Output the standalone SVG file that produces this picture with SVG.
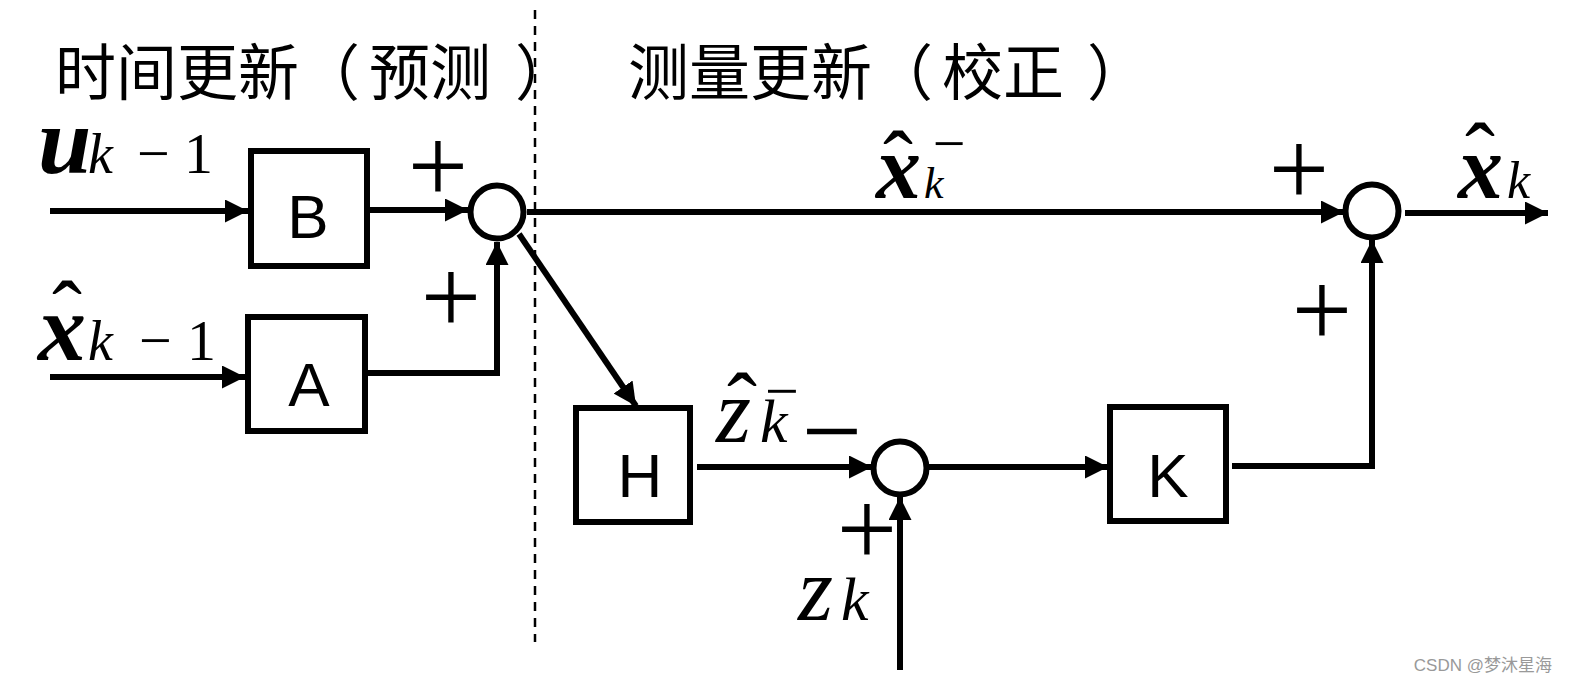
<svg xmlns="http://www.w3.org/2000/svg" width="1573" height="684" viewBox="0 0 1573 684">
<style>
.box{fill:#fff;stroke:#000;stroke-width:6}
.sum{fill:#fff;stroke:#000;stroke-width:6}
.wire{fill:none;stroke:#000;stroke-width:6}
.lbl{font-family:"Liberation Sans",Arial,sans-serif;font-size:62px;fill:#000;text-anchor:middle}
.cn{font-family:"Noto Sans CJK SC","Noto Sans CJK JP",sans-serif;font-size:61px;fill:#000}
.m{font-family:"Liberation Serif","Times New Roman",serif;fill:#000}
.bi{font-style:italic;font-weight:bold}
.it{font-style:italic}
.sg{font-family:"Liberation Serif","Times New Roman",serif;font-size:107px;fill:#000;text-anchor:middle}
.hat{font-family:"Liberation Serif","Times New Roman",serif;font-size:90px;fill:#000;text-anchor:middle}
</style>
<defs>
<marker id="ah" markerWidth="23" markerHeight="23" refX="23" refY="11.5" orient="auto" markerUnits="userSpaceOnUse">
<path d="M0,0 L23,11.5 L0,23 z" fill="#000"/>
</marker>
</defs>
<rect width="1573" height="684" fill="#fff"/>

<g id="titles">
<text class="cn" y="95"><tspan x="55">时间更新（</tspan><tspan x="369">预测</tspan><tspan x="515">）</tspan></text>
<text class="cn" y="95"><tspan x="628">测量更新（</tspan><tspan x="942">校正</tspan><tspan x="1087">）</tspan></text>
</g>

<line x1="535" y1="10" x2="535" y2="642" stroke="#000" stroke-width="2.5" stroke-dasharray="9 7"/>

<g id="connectors">
<path class="wire" d="M50,211 H248" marker-end="url(#ah)"/>
<path class="wire" d="M50,377 H245" marker-end="url(#ah)"/>
<path class="wire" d="M370,210 H468" marker-end="url(#ah)"/>
<path class="wire" d="M368,373 H497 V242" marker-end="url(#ah)"/>
<path class="wire" d="M527,212 H1344" marker-end="url(#ah)"/>
<path class="wire" d="M519,234 L636,406" marker-end="url(#ah)"/>
<path class="wire" d="M697,467 H872" marker-end="url(#ah)"/>
<path class="wire" d="M928,467 H1108" marker-end="url(#ah)"/>
<path class="wire" d="M1232,466 H1372 V240" marker-end="url(#ah)"/>
<path class="wire" d="M900,670 V497" marker-end="url(#ah)"/>
<path class="wire" d="M1405,213 H1548" marker-end="url(#ah)"/>
</g>

<g id="B"><rect class="box" x="251" y="151" width="116" height="115"/><text class="lbl" x="308" y="238">B</text></g>
<g id="A"><rect class="box" x="248" y="317" width="117" height="114"/><text class="lbl" x="309" y="406">A</text></g>
<g id="H"><rect class="box" x="576" y="408" width="114" height="114"/><text class="lbl" x="640" y="497">H</text></g>
<g id="K"><rect class="box" x="1110" y="407" width="116" height="114"/><text class="lbl" x="1168" y="497">K</text></g>

<g id="sum1"><circle class="sum" cx="497" cy="212" r="26.5"/></g>
<g id="sum2"><circle class="sum" cx="1372" cy="211" r="26.5"/></g>
<g id="sum3"><circle class="sum" cx="900" cy="468" r="26.5"/></g>

<g id="signs">
<text class="sg" x="438" y="202">+</text>
<text class="sg" x="451" y="333">+</text>
<text class="sg" x="1299" y="205">+</text>
<text class="sg" x="1322" y="346">+</text>
<text class="sg" x="867" y="565">+</text>
<text class="sg" x="832" y="467">−</text>
</g>

<g id="math">
<text class="m bi" x="38" y="173" font-size="96">u</text>
<text class="m it" x="88" y="173" font-size="56">k</text>
<text class="m" x="137" y="173" font-size="58">−</text>
<text class="m" x="184" y="173" font-size="58">1</text>

<text class="m bi" x="38" y="360" font-size="96">x</text>
<text class="hat" x="67" y="344">ˆ</text>
<text class="m it" x="88" y="360" font-size="56">k</text>
<text class="m" x="139" y="360" font-size="58">−</text>
<text class="m" x="187" y="360" font-size="58">1</text>

<text class="m bi" x="876" y="198" font-size="90">x</text>
<text class="hat" x="898" y="194">ˆ</text>
<text class="m it" x="924" y="198" font-size="44">k</text>
<text class="m" x="949" y="163" font-size="58" text-anchor="middle">−</text>

<text class="m bi" x="1458" y="198" font-size="90">x</text>
<text class="hat" x="1480" y="186">ˆ</text>
<text class="m it" x="1507" y="198" font-size="52">k</text>

<text class="m it" x="716" y="442" font-size="90">z</text>
<text class="hat" x="742" y="436">ˆ</text>
<text class="m it" x="760" y="442" font-size="62">k</text>
<text class="m" x="782" y="411" font-size="60" text-anchor="middle">−</text>

<text class="m it" x="798" y="620" font-size="90">z</text>
<text class="m it" x="841" y="620" font-size="62">k</text>
</g>

<text x="1552" y="671" font-family="'Liberation Sans','Noto Sans CJK SC',sans-serif" font-size="17" fill="#999" text-anchor="end">CSDN @梦沐星海</text>
</svg>
